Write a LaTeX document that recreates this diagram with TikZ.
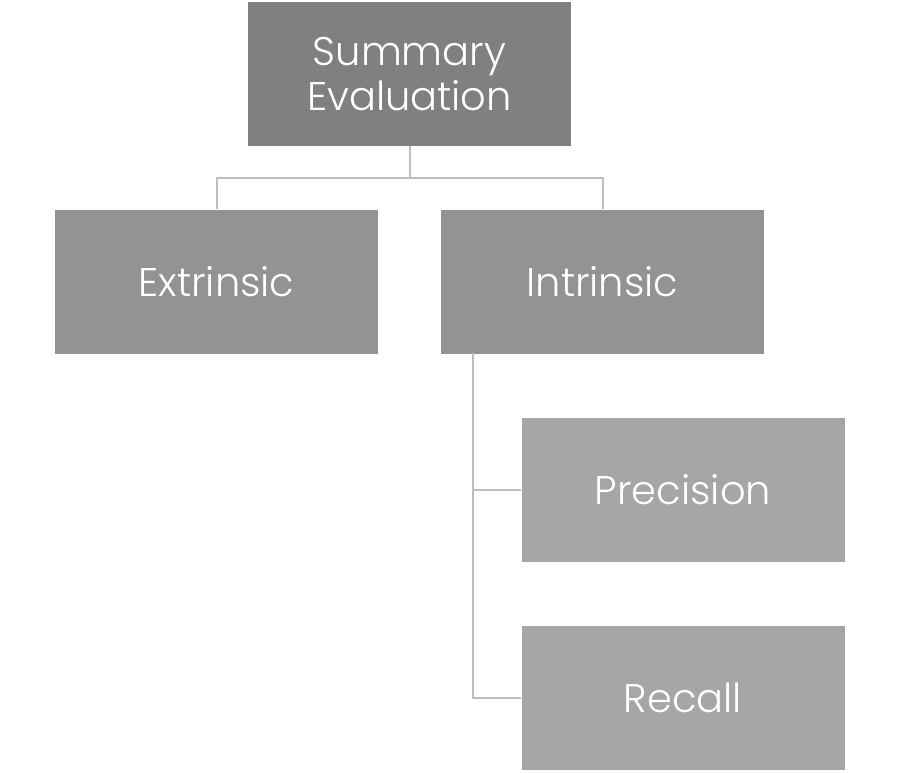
\documentclass[tikz,border=0pt]{standalone}
\usepackage{fontspec}
\setmainfont{Poppins Light}
\definecolor{lvlone}{HTML}{808080}
\definecolor{lvltwo}{HTML}{939393}
\definecolor{lvlthree}{HTML}{A6A6A6}
\definecolor{conn}{HTML}{BFBFBF}
\begin{document}
\begin{tikzpicture}[x=1pt,y=-1pt,
  box/.style={rectangle, minimum width=323pt, minimum height=144pt, inner sep=0pt,
    text=white, font=\fontsize{40}{45}\selectfont, align=center},
  link/.style={draw=conn, line width=2pt}]
\useasboundingbox (0,0) rectangle (900,773);
\node[box, fill=lvlone] (se) at (409.5,74) {Summary\\Evaluation};
\node[box, fill=lvltwo] (ex) at (216.5,281.5) {Extrinsic};
\node[box, fill=lvltwo] (in) at (602.5,281.5) {Intrinsic};
\node[box, fill=lvlthree] (pr) at (683,490) {Precision};
\node[box, fill=lvlthree] (re) at (683,698) {Recall};
\coordinate (mid) at (409.5,178);
\draw[link] (se.south) -- (mid);
\draw[link] (ex.north) |- (mid) -| (in.north);
\coordinate (trunk) at (473,353);
\draw[link] (trunk) |- (re.west);
\draw[link] (trunk |- pr.west) -- (pr.west);
\end{tikzpicture}
\end{document}
